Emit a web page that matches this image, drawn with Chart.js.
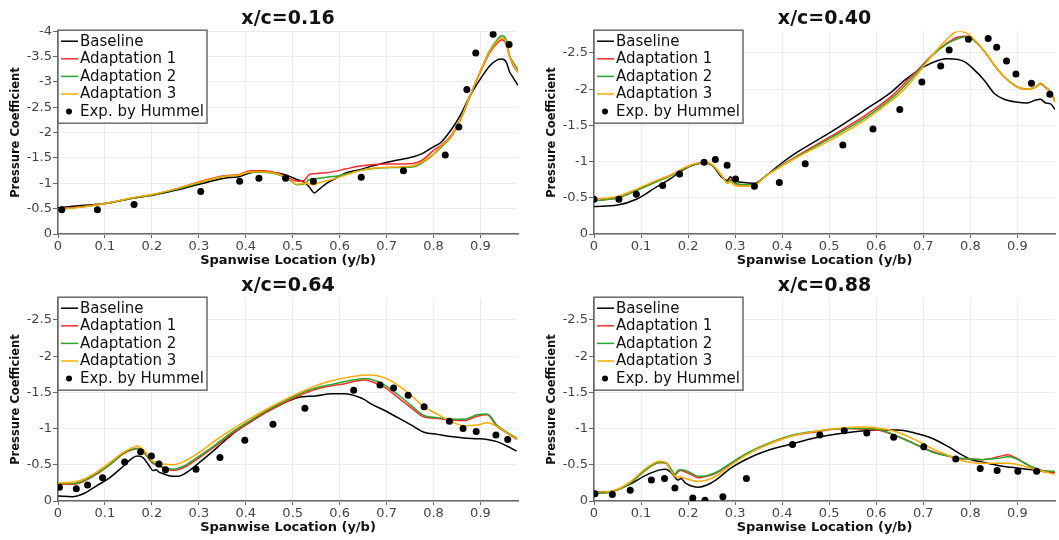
<!DOCTYPE html>
<html lang="en">
<head>
<meta charset="UTF-8" />
<title>Spanwise Pressure Coefficient</title>
<script src="https://cdn.jsdelivr.net/npm/chart.js@4.4.0/dist/chart.umd.min.js"></script>
<style>
  body { margin: 0; background: #fff; width: 1059px; height: 540px; overflow: hidden; position: relative; }
  .panel { position: absolute; }
</style>
</head>
<body>
<div class="panel" style="left:0;top:0"><canvas id="c16" width="522" height="268"></canvas></div>
<div class="panel" style="left:536px;top:0"><canvas id="c40" width="523" height="268"></canvas></div>
<div class="panel" style="left:0;top:267px"><canvas id="c64" width="522" height="268"></canvas></div>
<div class="panel" style="left:536px;top:267px"><canvas id="c88" width="523" height="268"></canvas></div>
<script>
// ---- x/c = 0.16 ----
const span16 = [0, 0.05, 0.1, 0.155, 0.205, 0.255, 0.305, 0.355, 0.385, 0.41, 0.44, 0.47, 0.49, 0.51, 0.525, 0.535, 0.546, 0.556, 0.572, 0.592, 0.612, 0.643, 0.673, 0.714, 0.755, 0.775, 0.8, 0.815, 0.838, 0.857, 0.878, 0.9, 0.92, 0.935, 0.945, 0.955, 0.962, 0.97, 0.98];
const baseline16 = [-0.52, -0.56, -0.6, -0.7, -0.77, -0.87, -0.99, -1.1, -1.13, -1.21, -1.23, -1.2, -1.15, -1.07, -1.02, -0.93, -0.81, -0.88, -1.0, -1.1, -1.2, -1.27, -1.35, -1.44, -1.52, -1.58, -1.72, -1.8, -2.06, -2.34, -2.73, -3.06, -3.32, -3.43, -3.45, -3.39, -3.2, -3.08, -2.93];
const adapt1_16 = [-0.5, -0.54, -0.6, -0.7, -0.78, -0.9, -1.04, -1.15, -1.17, -1.25, -1.25, -1.19, -1.11, -1.04, -1.06, -1.17, -1.19, -1.2, -1.21, -1.24, -1.28, -1.34, -1.37, -1.38, -1.39, -1.45, -1.65, -1.74, -1.95, -2.26, -2.73, -3.2, -3.58, -3.76, -3.83, -3.74, -3.5, -3.32, -3.18];
const adapt2_16 = [-0.48, -0.53, -0.6, -0.7, -0.78, -0.89, -1.02, -1.14, -1.16, -1.22, -1.22, -1.17, -1.09, -0.97, -0.99, -1.07, -1.09, -1.1, -1.12, -1.14, -1.18, -1.25, -1.29, -1.31, -1.32, -1.4, -1.57, -1.7, -1.92, -2.24, -2.72, -3.22, -3.62, -3.82, -3.91, -3.82, -3.52, -3.38, -3.24];
const adapt3_16 = [-0.49, -0.53, -0.6, -0.71, -0.79, -0.9, -1.03, -1.14, -1.16, -1.23, -1.23, -1.18, -1.1, -0.98, -1.0, -0.99, -0.97, -1.01, -1.05, -1.1, -1.16, -1.25, -1.3, -1.32, -1.34, -1.42, -1.58, -1.72, -1.93, -2.25, -2.74, -3.22, -3.6, -3.79, -3.87, -3.77, -3.5, -3.34, -3.18];
const expX16 = [0.008, 0.084, 0.162, 0.304, 0.387, 0.428, 0.485, 0.544, 0.646, 0.736, 0.825, 0.854, 0.871, 0.89, 0.927, 0.961];
const expCp16 = [-0.48, -0.48, -0.58, -0.84, -1.04, -1.1, -1.1, -1.04, -1.12, -1.25, -1.56, -2.11, -2.85, -3.57, -3.94, -3.74];

// ---- x/c = 0.40 ----
const span40 = [0, 0.05, 0.09, 0.133, 0.162, 0.19, 0.219, 0.236, 0.251, 0.272, 0.283, 0.29, 0.297, 0.318, 0.341, 0.361, 0.397, 0.432, 0.504, 0.575, 0.632, 0.66, 0.689, 0.717, 0.749, 0.774, 0.79, 0.803, 0.83, 0.851, 0.872, 0.9, 0.921, 0.939, 0.949, 0.96, 0.97, 0.98];
const baseline40 = [-0.38, -0.4, -0.48, -0.65, -0.76, -0.89, -0.97, -0.98, -0.95, -0.78, -0.74, -0.79, -0.74, -0.71, -0.7, -0.78, -0.97, -1.13, -1.41, -1.71, -1.96, -2.12, -2.26, -2.36, -2.42, -2.41, -2.37, -2.3, -2.12, -1.94, -1.86, -1.82, -1.81, -1.85, -1.86, -1.81, -1.8, -1.72];
const adapt1_40 = [-0.46, -0.5, -0.6, -0.73, -0.81, -0.9, -0.97, -0.98, -0.95, -0.8, -0.72, -0.76, -0.71, -0.68, -0.68, -0.78, -0.94, -1.08, -1.35, -1.63, -1.9, -2.08, -2.27, -2.46, -2.63, -2.72, -2.73, -2.7, -2.52, -2.33, -2.17, -2.03, -2.0, -2.03, -2.07, -2.02, -1.96, -1.83];
const adapt2_40 = [-0.46, -0.5, -0.6, -0.72, -0.8, -0.9, -0.97, -0.98, -0.95, -0.8, -0.72, -0.74, -0.71, -0.68, -0.68, -0.78, -0.94, -1.07, -1.33, -1.6, -1.87, -2.04, -2.25, -2.45, -2.62, -2.7, -2.72, -2.7, -2.52, -2.33, -2.17, -2.03, -2.0, -2.03, -2.08, -2.03, -1.97, -1.84];
const adapt3_40 = [-0.48, -0.52, -0.62, -0.74, -0.81, -0.91, -0.98, -0.99, -0.96, -0.8, -0.7, -0.72, -0.68, -0.66, -0.67, -0.78, -0.93, -1.06, -1.3, -1.57, -1.84, -2.0, -2.22, -2.45, -2.68, -2.8, -2.78, -2.72, -2.52, -2.33, -2.17, -2.03, -2.0, -2.03, -2.08, -2.03, -1.96, -1.82];
const expX40 = [0, 0.053, 0.09, 0.146, 0.182, 0.234, 0.258, 0.283, 0.301, 0.341, 0.394, 0.449, 0.529, 0.593, 0.65, 0.697, 0.737, 0.755, 0.796, 0.838, 0.856, 0.877, 0.897, 0.93, 0.969];
const expCp40 = [-0.48, -0.48, -0.55, -0.67, -0.83, -0.99, -1.03, -0.95, -0.76, -0.66, -0.71, -0.97, -1.23, -1.45, -1.72, -2.1, -2.32, -2.54, -2.69, -2.7, -2.58, -2.39, -2.21, -2.08, -1.93];

// ---- x/c = 0.64 ----
const span64 = [0, 0.03, 0.054, 0.082, 0.11, 0.139, 0.16, 0.17, 0.181, 0.195, 0.202, 0.209, 0.215, 0.223, 0.245, 0.255, 0.273, 0.301, 0.336, 0.371, 0.407, 0.442, 0.477, 0.512, 0.548, 0.583, 0.611, 0.639, 0.653, 0.667, 0.696, 0.724, 0.752, 0.78, 0.808, 0.837, 0.865, 0.893, 0.914, 0.935, 0.956, 0.977];
const baseline64 = [-0.07, -0.06, -0.1, -0.21, -0.32, -0.48, -0.6, -0.62, -0.6, -0.48, -0.42, -0.43, -0.4, -0.38, -0.34, -0.34, -0.39, -0.53, -0.72, -0.92, -1.08, -1.22, -1.34, -1.43, -1.45, -1.48, -1.48, -1.44, -1.4, -1.34, -1.25, -1.15, -1.05, -0.95, -0.92, -0.89, -0.87, -0.86, -0.85, -0.82, -0.76, -0.69];
const adapt1_64 = [-0.23, -0.23, -0.27, -0.37, -0.5, -0.65, -0.71, -0.72, -0.68, -0.57, -0.52, -0.5, -0.48, -0.46, -0.42, -0.43, -0.48, -0.6, -0.76, -0.93, -1.08, -1.22, -1.34, -1.45, -1.54, -1.59, -1.62, -1.66, -1.67, -1.65, -1.57, -1.43, -1.29, -1.16, -1.14, -1.12, -1.11, -1.17, -1.19, -1.03, -0.94, -0.85];
const adapt2_64 = [-0.24, -0.24, -0.28, -0.38, -0.5, -0.66, -0.72, -0.73, -0.69, -0.58, -0.53, -0.51, -0.49, -0.47, -0.44, -0.45, -0.5, -0.62, -0.78, -0.95, -1.1, -1.24, -1.36, -1.47, -1.56, -1.61, -1.65, -1.68, -1.69, -1.68, -1.6, -1.47, -1.32, -1.18, -1.15, -1.13, -1.13, -1.19, -1.2, -1.05, -0.95, -0.87];
const adapt3_64 = [-0.25, -0.26, -0.3, -0.4, -0.53, -0.67, -0.74, -0.76, -0.71, -0.6, -0.55, -0.54, -0.52, -0.51, -0.5, -0.51, -0.56, -0.67, -0.84, -0.99, -1.13, -1.26, -1.38, -1.49, -1.59, -1.66, -1.7, -1.73, -1.74, -1.74, -1.7, -1.6, -1.46, -1.3, -1.2, -1.1, -1.04, -1.05, -1.08, -1.03, -0.94, -0.86];
const expX64 = [0.003, 0.039, 0.063, 0.095, 0.142, 0.176, 0.199, 0.215, 0.229, 0.294, 0.345, 0.398, 0.458, 0.526, 0.63, 0.686, 0.715, 0.746, 0.78, 0.834, 0.863, 0.891, 0.933, 0.958];
const expCp64 = [-0.19, -0.17, -0.22, -0.32, -0.54, -0.68, -0.62, -0.51, -0.43, -0.44, -0.6, -0.84, -1.06, -1.28, -1.53, -1.6, -1.56, -1.46, -1.3, -1.1, -1.0, -0.96, -0.91, -0.85];

// ---- x/c = 0.88 ----
const span88 = [0, 0.04, 0.076, 0.112, 0.14, 0.153, 0.163, 0.172, 0.178, 0.185, 0.194, 0.211, 0.222, 0.24, 0.261, 0.29, 0.325, 0.361, 0.422, 0.468, 0.532, 0.575, 0.61, 0.646, 0.681, 0.717, 0.753, 0.781, 0.802, 0.824, 0.859, 0.88, 0.895, 0.931, 0.952, 0.979];
const baseline88 = [-0.12, -0.14, -0.23, -0.36, -0.43, -0.44, -0.4, -0.33, -0.29, -0.31, -0.25, -0.2, -0.19, -0.22, -0.3, -0.45, -0.58, -0.68, -0.79, -0.87, -0.94, -0.97, -0.98, -0.98, -0.94, -0.87, -0.75, -0.64, -0.57, -0.54, -0.49, -0.47, -0.46, -0.43, -0.41, -0.39];
const adapt1_88 = [-0.1, -0.13, -0.24, -0.44, -0.53, -0.52, -0.44, -0.36, -0.4, -0.42, -0.4, -0.35, -0.32, -0.34, -0.39, -0.51, -0.65, -0.76, -0.9, -0.95, -1.0, -0.99, -0.97, -0.89, -0.79, -0.69, -0.62, -0.58, -0.58, -0.57, -0.61, -0.64, -0.6, -0.47, -0.42, -0.4];
const adapt2_88 = [-0.1, -0.13, -0.24, -0.44, -0.53, -0.53, -0.45, -0.37, -0.42, -0.43, -0.42, -0.37, -0.34, -0.35, -0.4, -0.52, -0.66, -0.77, -0.91, -0.96, -1.0, -1.0, -0.98, -0.89, -0.79, -0.68, -0.62, -0.59, -0.58, -0.57, -0.59, -0.61, -0.59, -0.47, -0.42, -0.41];
const adapt3_88 = [-0.12, -0.14, -0.26, -0.46, -0.55, -0.53, -0.42, -0.34, -0.33, -0.33, -0.31, -0.28, -0.27, -0.29, -0.35, -0.49, -0.64, -0.76, -0.9, -0.96, -1.01, -1.02, -1.0, -0.95, -0.85, -0.73, -0.63, -0.56, -0.53, -0.52, -0.52, -0.52, -0.51, -0.45, -0.41, -0.37];
const expX88 = [0.002, 0.039, 0.077, 0.122, 0.15, 0.172, 0.21, 0.236, 0.274, 0.324, 0.422, 0.48, 0.532, 0.58, 0.637, 0.701, 0.769, 0.821, 0.857, 0.901, 0.941];
const expCp88 = [-0.1, -0.09, -0.15, -0.29, -0.31, -0.18, -0.04, -0.01, -0.06, -0.31, -0.78, -0.91, -0.97, -0.94, -0.88, -0.75, -0.58, -0.45, -0.42, -0.41, -0.41];

// axis ticks
const spanTicks = [0, 0.1, 0.2, 0.3, 0.4, 0.5, 0.6, 0.7, 0.8, 0.9];
const cpTicks = [-4, -3.5, -3, -2.5, -2, -1.5, -1, -0.5, 0];

const seriesNames = ['Baseline', 'Adaptation 1', 'Adaptation 2', 'Adaptation 3', 'Exp. by Hummel'];
const seriesColors = ['#000000', '#ff2a2a', '#2aa62a', '#ffaa00', '#000000'];

const FONT = '"DejaVu Sans", sans-serif';

function pairs(xs, ys) {
  return xs.map((x, i) => ({ x: x, y: ys[i] }));
}

// use a fixed tick list instead of the auto one (keeps 0.9 next to the 0.98 end)
function fixedTicks(list) {
  return scale => {
    scale.ticks = list.filter(v => v >= scale.min - 1e-9 && v <= scale.max + 1e-9).map(v => ({ value: v }));
  };
}

function fmt(v) {
  return String(Math.round(v * 100) / 100);
}

// boxed legend sitting in the top-left corner of the plot area
const boxLegend = {
  id: 'boxLegend',
  afterDatasetsDraw(chart) {
    const { ctx, chartArea } = chart;
    const left = chartArea.left, top = chartArea.top - 1;
    const w = 149, h = 93;
    ctx.save();
    ctx.fillStyle = '#ffffff';
    ctx.fillRect(left, top, w, h);
    ctx.strokeStyle = '#6a6a6a';
    ctx.lineWidth = 1.5;
    ctx.strokeRect(left, top, w, h);
    ctx.font = '15px ' + FONT;
    ctx.textBaseline = 'middle';
    ctx.textAlign = 'left';
    chart.data.datasets.forEach((ds, i) => {
      const y = top + 11 + i * 17.6;
      if (ds.showLine === false) {
        ctx.fillStyle = '#000';
        ctx.beginPath();
        ctx.arc(left + 11, y, 3, 0, Math.PI * 2);
        ctx.fill();
      } else {
        ctx.strokeStyle = ds.borderColor;
        ctx.lineWidth = 1.5;
        ctx.beginPath();
        ctx.moveTo(left + 3, y);
        ctx.lineTo(left + 20, y);
        ctx.stroke();
      }
      ctx.fillStyle = '#111';
      ctx.fillText(ds.label, left + 22, y + 0.5);
    });
    ctx.restore();
  }
};

function curve(i, xs, ys) {
  return {
    label: seriesNames[i],
    data: pairs(xs, ys),
    borderColor: seriesColors[i],
    borderWidth: 1.5,
    pointRadius: 0,
    cubicInterpolationMode: 'monotone',
    fill: false,
    order: 4 - i
  };
}

function makePanel(id, title, yMin, span, base, a1, a2, a3, expX, expCp) {
  new Chart(document.getElementById(id), {
    type: 'line',
    data: {
      datasets: [
        curve(0, span, base),
        curve(1, span, a1),
        curve(2, span, a2),
        curve(3, span, a3),
        {
          label: seriesNames[4],
          data: pairs(expX, expCp),
          showLine: false,
          pointRadius: 3.5,
          pointBackgroundColor: '#000',
          pointBorderWidth: 0,
          borderColor: '#000',
          order: 0
        }
      ]
    },
    options: {
      responsive: false,
      animation: false,
      layout: { padding: 0 },
      plugins: {
        legend: { display: false },
        tooltip: { enabled: false },
        title: {
          display: true,
          fullSize: false,   // centre over the plot area, not the whole canvas
          text: title,
          color: '#111',
          font: { family: FONT, size: 19, weight: 'bold' },
          padding: { top: 8, bottom: 0.4 }
        }
      },
      scales: {
        x: {
          type: 'linear',
          min: 0,
          max: 0.98,
          afterBuildTicks: fixedTicks(spanTicks),
          afterFit: s => { s.height = 34; },
          ticks: {
            color: '#444',
            font: { family: FONT, size: 13 },
            padding: 1,
            maxRotation: 0,
            autoSkip: false,
            callback: v => fmt(v)
          },
          grid: { color: '#ececec', tickColor: '#666', tickLength: 4 },
          border: { color: '#666', width: 1.5 },
          title: {
            display: true,
            text: 'Spanwise Location (y/b)',
            color: '#111',
            font: { family: FONT, size: 13, weight: 'bold' },
            padding: { top: 0, bottom: 0 }
          }
        },
        y: {
          type: 'linear',
          reverse: true,
          min: yMin,
          max: 0,
          afterBuildTicks: fixedTicks(cpTicks),
          afterFit: s => { s.width = 58; },
          ticks: {
            color: '#444',
            font: { family: FONT, size: 13 },
            padding: 1,
            autoSkip: false,
            callback: v => fmt(v)
          },
          grid: { color: '#ececec', tickColor: '#666', tickLength: 5 },
          border: { color: '#666', width: 1.5 },
          title: {
            display: true,
            text: 'Pressure Coefficient',
            color: '#111',
            font: { family: FONT, size: 11.5, weight: 'bold' },
            padding: { top: 9, bottom: 0 }
          }
        }
      }
    },
    plugins: [boxLegend]
  });
}

makePanel('c16', 'x/c=0.16', -4, span16, baseline16, adapt1_16, adapt2_16, adapt3_16, expX16, expCp16);
makePanel('c40', 'x/c=0.40', -2.8, span40, baseline40, adapt1_40, adapt2_40, adapt3_40, expX40, expCp40);
makePanel('c64', 'x/c=0.64', -2.8, span64, baseline64, adapt1_64, adapt2_64, adapt3_64, expX64, expCp64);
makePanel('c88', 'x/c=0.88', -2.8, span88, baseline88, adapt1_88, adapt2_88, adapt3_88, expX88, expCp88);
</script>
</body>
</html>
